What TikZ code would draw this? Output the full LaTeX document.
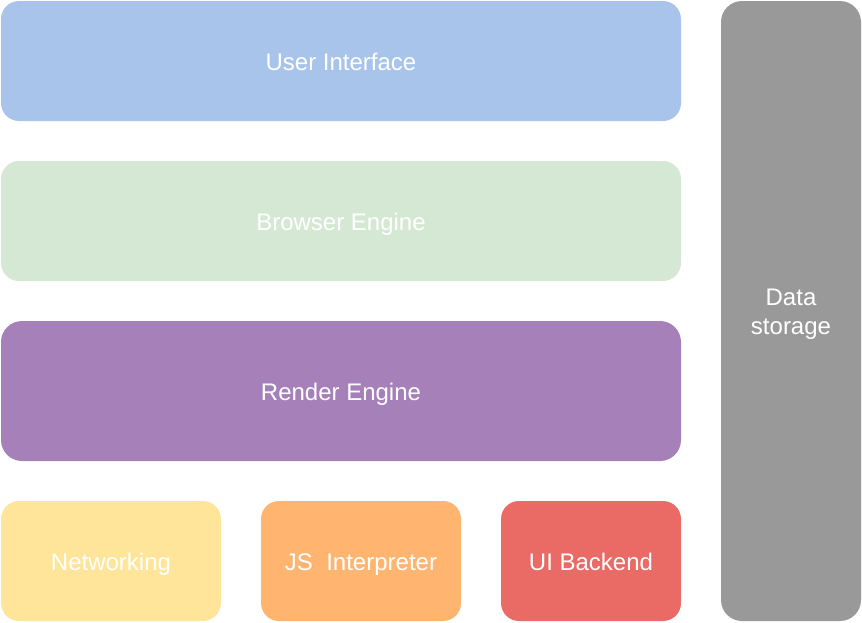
\documentclass[tikz,border=0pt]{standalone}
\usepackage{fontspec}
\setmainfont{Liberation Sans}
\usepackage{xcolor}
\usepackage{tikz}

\definecolor{uiblue}{HTML}{A9C4EB}
\definecolor{enggreen}{HTML}{D5E8D4}
\definecolor{renpurple}{HTML}{A680B8}
\definecolor{netyellow}{HTML}{FFE599}
\definecolor{jsorange}{HTML}{FFB570}
\definecolor{backred}{HTML}{EA6B66}
\definecolor{storegray}{HTML}{999999}

\tikzset{
  layer/.style={rectangle, rounded corners=18, inner sep=0pt, text=white,
    font=\fontsize{24}{29}\selectfont, align=center},
  oneline/.style={text height=22pt, text depth=3pt},
}

\begin{document}
\begin{tikzpicture}[x=1pt,y=-1pt]
\useasboundingbox (0,0) rectangle (862,622);

% layers of the browser
\node[layer, oneline, fill=uiblue, minimum width=680, minimum height=120] (ui) at (341,61) {User Interface};
\node[layer, oneline, fill=enggreen, minimum width=680, minimum height=120] (browser) at (341,221) {Browser Engine};
\node[layer, oneline, fill=renpurple, minimum width=680, minimum height=140, rounded corners=21] (render) at (341,391) {Render Engine};

% bottom row
\node[layer, oneline, fill=netyellow, minimum width=220, minimum height=120] (net) at (111,561) {Networking};
\node[layer, oneline, fill=jsorange, minimum width=200, minimum height=120] (js) at (361,561) {JS~~Interpreter};
\node[layer, oneline, fill=backred, minimum width=180, minimum height=120] (backend) at (591,561) {UI Backend};

% side column
\node[layer, fill=storegray, minimum width=140, minimum height=620, rounded corners=21] (store) at (791,311) {};
\node[text=white, font=\fontsize{24}{29}\selectfont, align=center, yshift=-3pt] (storelabel) at (store.center) {Data\\storage};
\end{tikzpicture}
\end{document}
